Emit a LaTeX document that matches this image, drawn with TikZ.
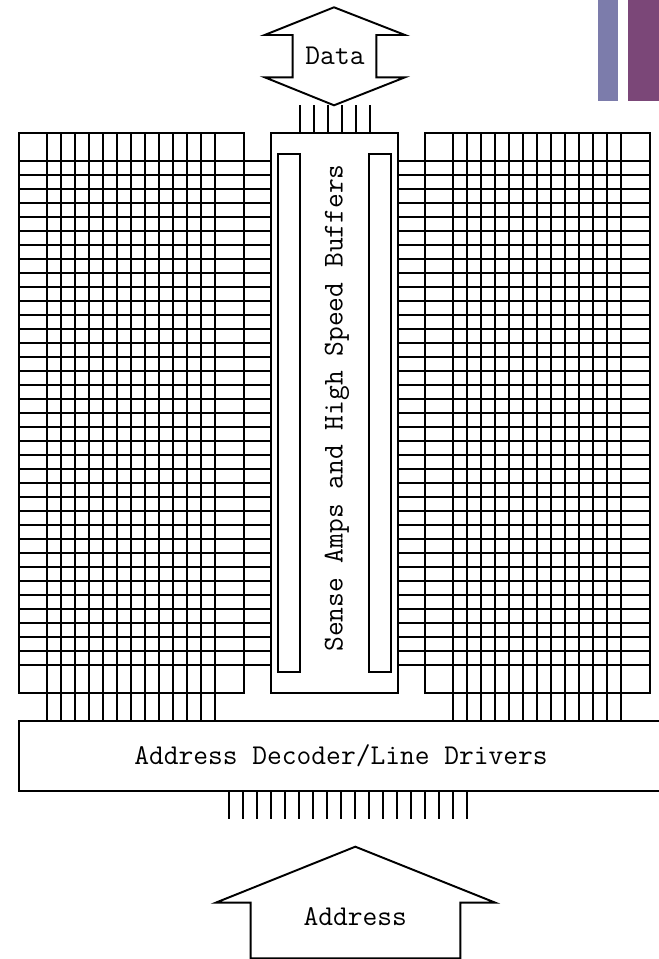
\documentclass[tikz,border=0pt]{standalone}
\usepackage{tikz}
\usetikzlibrary{calc}
\definecolor{barblue}{HTML}{7C7CAB}
\definecolor{barplum}{HTML}{7B4778}
\tikzset{
  wire/.style={line width=1.45pt,line join=miter},
  chiplabel/.style={font=\fontsize{21.5}{24}\ttfamily,inner sep=0pt,text height=14pt,text depth=4pt}
}

\begin{document}
\begin{tikzpicture}[x=0.75pt,y=-0.75pt]
  \useasboundingbox (0,0) rectangle (659,959);
  % Corner bars
  \fill[barblue] (598,0) rectangle (618,101);
  \fill[barplum] (628,0) rectangle (659,101);
  % Memory arrays
  \coordinate (LA) at (19.3,133);
  \coordinate (LB) at (243.7,693);
  \coordinate (RA) at (425.3,133);
  \coordinate (RB) at (649.7,693);
  \draw[wire] (LA) rectangle (LB);
  \draw[wire] (RA) rectangle (RB);
  % Sense amps
  \coordinate (SA) at (271.3,133);
  \coordinate (SB) at (397.7,693);
  \draw[wire] (SA) rectangle (SB);
  \draw[wire] (278.3,154) rectangle (299.7,672);
  \draw[wire] (369.3,154) rectangle (391,672);
  % Word lines
  \foreach \n in {0,...,36} {
    \pgfmathsetmacro{\yy}{161+14*\n}
    \draw[wire] (LA |- 0,\yy) -- (SA |- 0,\yy);
    \draw[wire] (SB |- 0,\yy) -- (RB |- 0,\yy);
  }
  % Bit lines
  \foreach \n in {0,...,12} {
    \pgfmathsetmacro{\xl}{47.3+14*\n}
    \pgfmathsetmacro{\xr}{453.3+14*\n}
    \draw[wire] (\xl,133) -- (\xl,720.7);
    \draw[wire] (\xr,133) -- (\xr,720.7);
  }
  % Decoder
  \draw[wire] (659,720.7) -- (19.3,720.7) -- (19.3,791) -- (659,791);
  \node[chiplabel] (decoder) at (341,758) {Address Decoder/Line Drivers};
  \foreach \n in {0,...,17} {
    \pgfmathsetmacro{\xa}{229.3+14*\n}
    \draw[wire] (\xa,791) -- (\xa,819);
  }
  % Address arrow
  \draw[wire] (355.3,846.7) -- (495.3,902.7) -- (460.3,902.7) -- (460.3,958.3)
    -- (250.7,958.3) -- (250.7,902.7) -- (215.7,902.7) -- cycle;
  \node[chiplabel] (address) at (355.3,919) {Address};
  % Data arrow
  \draw[wire] (334,7.3) -- (405,35) -- (376.3,35) -- (376.3,77.3) -- (405,77.3)
    -- (334,105.3) -- (264.7,77.3) -- (292.7,77.3) -- (292.7,35) -- (264.7,35) -- cycle;
  \node[chiplabel] (data) at (335,58) {Data};
  \foreach \n in {0,...,5} {
    \pgfmathsetmacro{\xd}{299.7+14*\n}
    \draw[wire] (\xd,105.3) -- (\xd,133);
  }
  \node[chiplabel,rotate=90] (sense) at (336,408) {Sense Amps and High Speed Buffers};
\end{tikzpicture}
\end{document}
